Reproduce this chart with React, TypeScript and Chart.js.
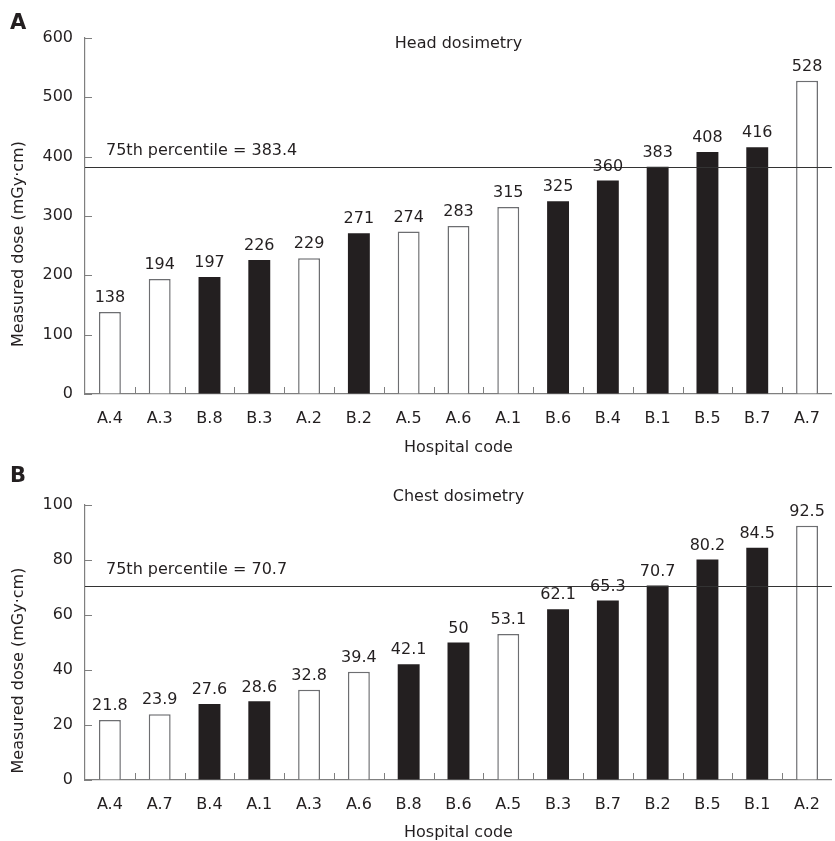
import React, { useEffect, useRef } from "react";
import { Chart, registerables } from "chart.js";

Chart.register(...registerables);

const headCategories = ["A.4", "A.3", "B.8", "B.3", "A.2", "B.2", "A.5", "A.6", "A.1", "B.6", "B.4", "B.1", "B.5", "B.7", "A.7"];
const headValues = [138, 194, 197, 226, 229, 271, 274, 283, 315, 325, 360, 383, 408, 416, 528];
const headValueLabels = ["138", "194", "197", "226", "229", "271", "274", "283", "315", "325", "360", "383", "408", "416", "528"];
const headFilled = [false, false, true, true, false, true, false, false, false, true, true, true, true, true, false];
const headPercentile = 383.4;
const headYTicks = [0, 100, 200, 300, 400, 500, 600];

const chestCategories = ["A.4", "A.7", "B.4", "A.1", "A.3", "A.6", "B.8", "B.6", "A.5", "B.3", "B.7", "B.2", "B.5", "B.1", "A.2"];
const chestValues = [21.8, 23.9, 27.6, 28.6, 32.8, 39.4, 42.1, 50, 53.1, 62.1, 65.3, 70.7, 80.2, 84.5, 92.5];
const chestValueLabels = ["21.8", "23.9", "27.6", "28.6", "32.8", "39.4", "42.1", "50", "53.1", "62.1", "65.3", "70.7", "80.2", "84.5", "92.5"];
const chestFilled = [false, false, true, true, false, false, true, true, false, true, true, true, true, true, false];
const chestPercentile = 70.7;
const chestYTicks = [0, 20, 40, 60, 80, 100];

const FONT = "'DejaVu Sans', Verdana, sans-serif";
const FS = 16;
const TEXT = "#231f20";
const AXIS = "#7f7f7f";
const BLACK = "#231f20";
const WHITE_BORDER = "#6d6e71";
const Y_TITLE = "Measured dose (mGy·cm)";

type PanelCfg = {
  letter: string;
  title: string;
  titleY: number;
  letterY: number;
  categories: string[];
  values: number[];
  valueLabels: string[];
  filled: boolean[];
  percentile: number;
  percentileText: string;
  yTicks: number[];
  height: number;
  padTop: number;
  xHeight: number;
  xTickPad: number;
  xTitlePadBottom: number;
  yTitleShift: number;
};

function makeChart(canvas: HTMLCanvasElement, c: PanelCfg) {
  const decor = {
    id: "decor",
    afterDatasetsDraw(chart: any) {
      const { ctx, chartArea, scales } = chart;
      const xs = scales.x;
      const ys = scales.y;
      ctx.save();
      // tick marks (inward)
      ctx.strokeStyle = AXIS;
      ctx.lineWidth = 1;
      ys.ticks.forEach((_t: any, i: number) => {
        const py = Math.round(ys.getPixelForTick(i)) + 0.5;
        ctx.beginPath();
        ctx.moveTo(chartArea.left, py);
        ctx.lineTo(chartArea.left + 7, py);
        ctx.stroke();
      });
      for (let i = 1; i < c.categories.length; i++) {
        const px = Math.round((xs.getPixelForTick(i - 1) + xs.getPixelForTick(i)) / 2) + 0.5;
        ctx.beginPath();
        ctx.moveTo(px, chartArea.bottom);
        ctx.lineTo(px, chartArea.bottom - 7);
        ctx.stroke();
      }
      // percentile line
      const ly = Math.round(ys.getPixelForValue(c.percentile)) + 0.5;
      ctx.strokeStyle = "#333333";
      ctx.lineWidth = 1.2;
      ctx.beginPath();
      ctx.moveTo(chartArea.left, ly);
      ctx.lineTo(chartArea.right, ly);
      ctx.stroke();
      ctx.fillStyle = TEXT;
      ctx.font = `${FS}px ${FONT}`;
      ctx.textAlign = "left";
      ctx.textBaseline = "middle";
      ctx.fillText(c.percentileText, chartArea.left + 21, ly - 17);
      // value labels
      ctx.textAlign = "center";
      const meta = chart.getDatasetMeta(0);
      meta.data.forEach((bar: any, i: number) => {
        ctx.fillText(c.valueLabels[i], bar.x, bar.y - 14);
      });
      // title
      ctx.fillText(c.title, (chartArea.left + chartArea.right) / 2, c.titleY);
      // y-axis title
      ctx.save();
      ctx.translate(19, (chartArea.top + chartArea.bottom) / 2 + c.yTitleShift);
      ctx.rotate(-Math.PI / 2);
      ctx.fillText(Y_TITLE, 0, 0);
      ctx.restore();
      // panel letter
      ctx.font = `bold 21px ${FONT}`;
      ctx.textAlign = "left";
      ctx.fillText(c.letter, 10, c.letterY);
      ctx.restore();
    },
  };

  return new Chart(canvas, {
    type: "bar",
    data: {
      labels: c.categories,
      datasets: [
        {
          data: c.values,
          backgroundColor: c.filled.map((f) => (f ? BLACK : "#ffffff")),
          borderColor: c.filled.map((f) => (f ? BLACK : WHITE_BORDER)),
          borderWidth: c.filled.map((f) => (f ? 0 : 1.5)),
          barPercentage: 0.44,
          categoryPercentage: 1,
        },
      ],
    },
    options: {
      responsive: false,
      animation: false,
      devicePixelRatio: 1,
      layout: { padding: { top: c.padTop, right: 0, left: 0, bottom: 0 } },
      plugins: {
        legend: { display: false },
        tooltip: { enabled: false },
        title: { display: false },
      },
      scales: {
        x: {
          type: "category",
          offset: true,
          grid: { display: true, drawOnChartArea: false, drawTicks: false, offset: true },
          border: { display: true, color: AXIS, width: 1.2 },
          ticks: { color: TEXT, font: { family: FONT, size: FS }, padding: c.xTickPad, maxRotation: 0, autoSkip: false },
          title: {
            display: true,
            text: "Hospital code",
            color: TEXT,
            font: { family: FONT, size: FS, lineHeight: 1 },
            padding: { top: 0, bottom: c.xTitlePadBottom },
          },
          afterFit: (scale: any) => {
            scale.height = c.xHeight;
          },
        },
        y: {
          min: c.yTicks[0],
          max: c.yTicks[c.yTicks.length - 1],
          afterBuildTicks: (scale: any) => {
            scale.ticks = c.yTicks.map((v) => ({ value: v }));
          },
          grid: { display: true, drawOnChartArea: false, drawTicks: false },
          border: { display: true, color: AXIS, width: 1.2 },
          ticks: { color: TEXT, font: { family: FONT, size: FS }, padding: 12 },
          title: { display: false },
          afterFit: (scale: any) => {
            scale.width = 85;
          },
        },
      },
    },
    plugins: [decor],
  });
}

const headCfg: PanelCfg = {
  letter: "A",
  title: "Head dosimetry",
  titleY: 44,
  letterY: 24,
  categories: headCategories,
  values: headValues,
  valueLabels: headValueLabels,
  filled: headFilled,
  percentile: headPercentile,
  percentileText: "75th percentile = 383.4",
  yTicks: headYTicks,
  height: 470,
  padTop: 38,
  xHeight: 76,
  xTickPad: 15,
  xTitlePadBottom: 14,
  yTitleShift: 28,
};

const chestCfg: PanelCfg = {
  letter: "B",
  title: "Chest dosimetry",
  titleY: 57,
  letterY: 37,
  categories: chestCategories,
  values: chestValues,
  valueLabels: chestValueLabels,
  filled: chestFilled,
  percentile: chestPercentile,
  percentileText: "75th percentile = 70.7",
  yTicks: chestYTicks,
  height: 401,
  padTop: 65,
  xHeight: 61,
  xTickPad: 15,
  xTitlePadBottom: 0,
  yTitleShift: 28,
};

function Panel({ cfg, top }: { cfg: PanelCfg; top: number }) {
  const ref = useRef<HTMLCanvasElement | null>(null);
  useEffect(() => {
    if (!ref.current) return;
    const chart = makeChart(ref.current, cfg);
    return () => chart.destroy();
  }, [cfg]);
  return (
    <canvas
      ref={ref}
      width={835}
      height={cfg.height}
      style={{ position: "absolute", left: 0, top, width: 835, height: cfg.height }}
    />
  );
}

export default function App() {
  return (
    <div style={{ position: "absolute", left: 0, top: 0, width: 835, height: 841, background: "#ffffff", overflow: "hidden" }}>
      <Panel cfg={headCfg} top={0} />
      <Panel cfg={chestCfg} top={440} />
    </div>
  );
}
